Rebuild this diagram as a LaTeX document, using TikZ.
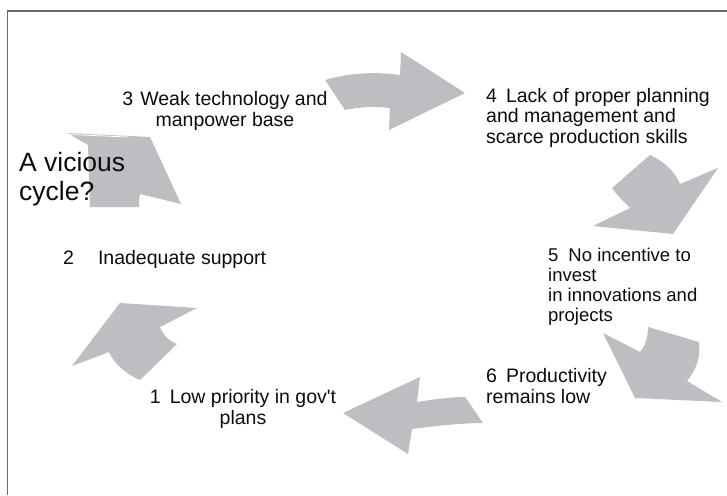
\documentclass[tikz,border=0pt]{standalone}
\usepackage{fontspec}
\setmainfont{Liberation Sans}
\definecolor{arrowgray}{RGB}{189,190,194}
\definecolor{framegray}{RGB}{105,105,105}
\tikzset{
  cyclearrow/.style={fill=arrowgray, draw=none},
  lbl/.style={inner sep=0pt, font=\fontsize{19.5}{20.5}\selectfont, text=black!95},
  biglbl/.style={inner sep=0pt, font=\fontsize{26.5}{29}\selectfont, text=black!95},
}
\begin{document}
\begin{tikzpicture}[x=1pt,y=-1pt]
\useasboundingbox (0,0) rectangle (727,495);
\fill[white] (0,0) rectangle (727,495);
% frame
\draw[framegray, line width=1.6pt] (7.5,495) -- (7.5,11) -- (727,11);

% arrows
% 2 -> 3
\fill[cyclearrow] (67,133) -- (150,137) -- (181,204) -- (140,194)
  .. controls (139,199) and (139,203) .. (139,207) -- (90,207) -- (88,145) -- cycle;
\draw[white, line width=0.8pt] (69,134.5) -- (128,137);
% 3 -> 4
\fill[cyclearrow] (325,80) .. controls (352,72) and (378,72) .. (400,75) -- (401,52) -- (465,93)
  -- (389,130) -- (390,108) .. controls (375,106) and (360,107) .. (345,110) -- cycle;
% 4 -> 5
\fill[cyclearrow] (650,155) .. controls (665,162) and (675,172) .. (680,184) -- (718,168)
  -- (673,234) -- (593,226) -- (630,208) .. controls (622,200) and (616,194) .. (612,188) -- cycle;
% 5 -> 6
\fill[cyclearrow] (648,327) -- (699,342) .. controls (701,357) and (696,370) .. (687,381)
  -- (722,402) -- (635,398) -- (603,333) -- (640,352) .. controls (646,345) and (648,336) .. (648,327) -- cycle;
% 6 -> 1
\fill[cyclearrow] (343,413) -- (420,377) -- (417,402) .. controls (435,399) and (452,397) .. (465,397)
  -- (483,423) .. controls (462,423) and (435,426) .. (412,429) -- (408,454) -- cycle;
% 1 -> 2
\fill[cyclearrow] (120,303) -- (197,308) -- (160,327) .. controls (163,335) and (169,341) .. (177,344)
  -- (140,380) .. controls (126,374) and (114,364) .. (109,352) -- (72,366) -- cycle;

% texts (base anchor = baseline of the last line)
\node[biglbl, anchor=base west, align=left] (vc) at (19,200) {A vicious\\cycle?};
\node[lbl, anchor=base, align=center] (t3) at (225,126) {3\hspace{7pt}Weak technology and\\manpower base};
\node[lbl, anchor=base west, align=left] (t4) at (486,143) {4\hspace{9pt}Lack of proper planning\\and management and\\scarce production skills};
\node[lbl, anchor=base west] (t2) at (63,264) {2\hspace{24pt}Inadequate support};
\node[lbl, anchor=base west, align=left, font=\fontsize{18.5}{19.8}\selectfont] (t5) at (548,321) {5\hspace{10pt}No incentive to\\invest\\in innovations and\\projects};
\node[lbl, anchor=base west, align=left] (t6) at (486,403) {6\hspace{9pt}Productivity\\remains low};
\node[lbl, anchor=base, align=center] (t1) at (243,424) {1\hspace{9pt}Low priority in gov\textquotesingle t\\plans};
\end{tikzpicture}
\end{document}
